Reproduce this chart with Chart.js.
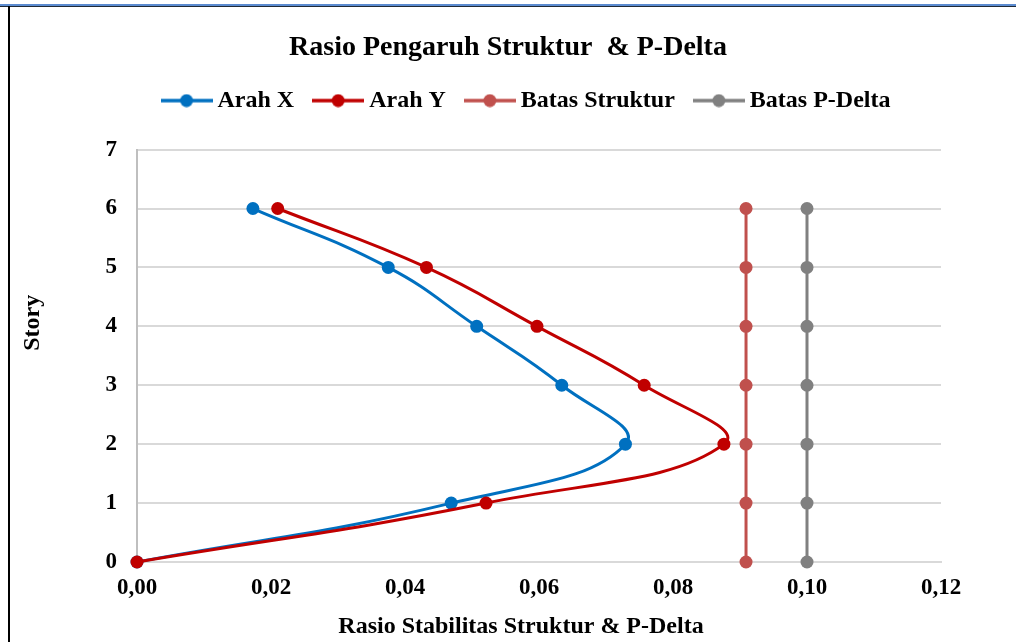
<!DOCTYPE html>
<html>
<head>
<meta charset="utf-8">
<title>Rasio Pengaruh Struktur & P-Delta</title>
<script src="https://cdn.jsdelivr.net/npm/chart.js@4/dist/chart.umd.min.js"></script>
<style>
  html, body { margin: 0; padding: 0; background: #fff; }
  #wrap { position: relative; width: 1016px; height: 642px; overflow: hidden; }
  #chart { position: absolute; left: 0; top: 0; }
  .rule { position: absolute; }
  #ruleTop { left: 0; top: 4px; width: 1016px; height: 2px; background: #5b8bd0; }
  #ruleTopDark { left: 0; top: 6px; width: 1016px; height: 1px; background: #1f2a36; }
  #ruleLeft { left: 8px; top: 6px; width: 2px; height: 636px; background: #000; }
</style>
</head>
<body>
<div id="wrap">
  <canvas id="chart" width="1016" height="642"></canvas>
  <div class="rule" id="ruleTop"></div>
  <div class="rule" id="ruleTopDark"></div>
  <div class="rule" id="ruleLeft"></div>
</div>
<script>
// Story levels (vertical axis)
const stories = [0, 1, 2, 3, 4, 5, 6];

// Stability ratio per story, from story 0 up to story 6
const arahX = [0, 0.0469, 0.0729, 0.0634, 0.0507, 0.0375, 0.0173];
const arahY = [0, 0.0521, 0.0876, 0.0757, 0.0597, 0.0432, 0.0210];

// Limit values
const batasStruktur = [0.0909, 0.0909, 0.0909, 0.0909, 0.0909, 0.0909, 0.0909];
const batasPDelta = [0.10, 0.10, 0.10, 0.10, 0.10, 0.10, 0.10];

const seriesNames = ['Arah X', 'Arah Y', 'Batas Struktur', 'Batas P-Delta'];
const seriesColors = ['#0070C0', '#C00000', '#C0504D', '#808080'];

const xTicks = { min: 0, max: 0.12, step: 0.02 };
const yTicks = { min: 0, max: 7, step: 1 };

const FONT = "'Liberation Serif', 'Times New Roman', serif";

function toPoints(values) {
  return values.map((v, i) => ({ x: v, y: stories[i] }));
}

// Legend marker: short line with a dot in the middle
function legendMarker(color) {
  const c = document.createElement('canvas');
  c.width = 52; c.height = 14;
  const g = c.getContext('2d');
  g.strokeStyle = color; g.lineWidth = 3.5;
  g.beginPath(); g.moveTo(0, 7); g.lineTo(52, 7); g.stroke();
  g.fillStyle = color;
  g.beginPath(); g.arc(26, 7, 6.5, 0, Math.PI * 2); g.fill();
  return c;
}

function makeSeries(idx, values, tension, order) {
  const color = seriesColors[idx];
  return {
    label: seriesNames[idx],
    data: toPoints(values),
    showLine: true,
    clip: false,
    borderColor: color,
    backgroundColor: color,
    borderWidth: 3,
    pointRadius: 6.5,
    pointHoverRadius: 6.5,
    pointBorderWidth: 0,
    pointBackgroundColor: color,
    pointStyle: 'circle',
    tension: tension,
    cubicInterpolationMode: 'default',
    order: order,
    legendMarker: legendMarker(color)
  };
}

// Adds room beneath the legend row and nudges the row into place
const legendLayout = {
  id: 'legendLayout',
  beforeInit(chart) {
    const lg = chart.legend;
    if (!lg || lg._patched) return;
    const fit = lg.fit;
    lg.fit = function () { fit.call(this); this.height += 19; };
    const draw = lg.draw;
    lg.draw = function () {
      const ctx = this.ctx;
      ctx.save();
      ctx.translate(21, -8);
      draw.call(this);
      ctx.restore();
    };
    lg._patched = true;
  }
};

const tickFont = { family: FONT, size: 23, weight: 'bold' };
const axisTitleFont = { family: FONT, size: 24, weight: 'bold' };

new Chart(document.getElementById('chart'), {
  type: 'scatter',
  data: {
    datasets: [
      makeSeries(0, arahX, 0.45, 1),
      makeSeries(1, arahY, 0.45, 0),
      makeSeries(2, batasStruktur, 0, 2),
      makeSeries(3, batasPDelta, 0, 3)
    ]
  },
  options: {
    responsive: false,
    animation: false,
    devicePixelRatio: 1,
    layout: { padding: { left: 10, right: 10, top: 0, bottom: 0 } },
    plugins: {
      tooltip: { enabled: false },
      title: {
        display: true,
        text: 'Rasio Pengaruh Struktur  & P-Delta',
        color: '#000',
        font: { family: FONT, size: 28, weight: 'bold' },
        padding: { top: 31, bottom: 7 }
      },
      legend: {
        display: true,
        position: 'top',
        labels: {
          color: '#000',
          font: { family: FONT, size: 24, weight: 'bold' },
          usePointStyle: true,
          pointStyleWidth: 38,
          boxHeight: 14,
          padding: 25,
          sort: (a, b) => a.datasetIndex - b.datasetIndex,
          generateLabels(chart) {
            return chart.data.datasets.map((ds, i) => ({
              text: ds.label,
              datasetIndex: i,
              fillStyle: ds.borderColor,
              strokeStyle: ds.borderColor,
              lineWidth: 0,
              pointStyle: ds.legendMarker,
              fontColor: '#000',
              hidden: false
            }));
          }
        }
      }
    },
    scales: {
      x: {
        type: 'linear',
        min: xTicks.min,
        max: xTicks.max,
        afterFit(scale) { scale.height = 80; },
        ticks: {
          stepSize: xTicks.step,
          color: '#000',
          font: tickFont,
          padding: 12,
          callback: (v) => Number(v).toFixed(2).replace('.', ',')
        },
        grid: { display: false, drawTicks: false },
        border: { display: true, color: '#d9d9d9', width: 2 },
        title: {
          display: true,
          text: 'Rasio Stabilitas Struktur & P-Delta      ',
          color: '#000',
          font: axisTitleFont,
          padding: { top: 0, bottom: 1 }
        }
      },
      y: {
        type: 'linear',
        position: 'left',
        min: yTicks.min,
        max: yTicks.max,
        afterFit(scale) { scale.width = 127; },
        ticks: {
          stepSize: yTicks.step,
          color: '#000',
          font: tickFont,
          padding: 20
        },
        grid: { color: '#d9d9d9', lineWidth: 2, drawTicks: false },
        border: { display: true, color: '#bfbfbf', width: 2 },
        title: {
          display: true,
          text: '           Story',
          color: '#000',
          font: axisTitleFont,
          padding: { top: 8, bottom: 0 }
        }
      },
      yRight: {
        type: 'linear',
        axis: 'y',
        position: 'right',
        display: true,
        min: yTicks.min,
        max: yTicks.max,
        afterFit(scale) { scale.width = 65; },
        ticks: { display: false },
        grid: { display: false, drawTicks: false },
        border: { display: false }
      }
    }
  },
  plugins: [legendLayout]
});
</script>
</body>
</html>
